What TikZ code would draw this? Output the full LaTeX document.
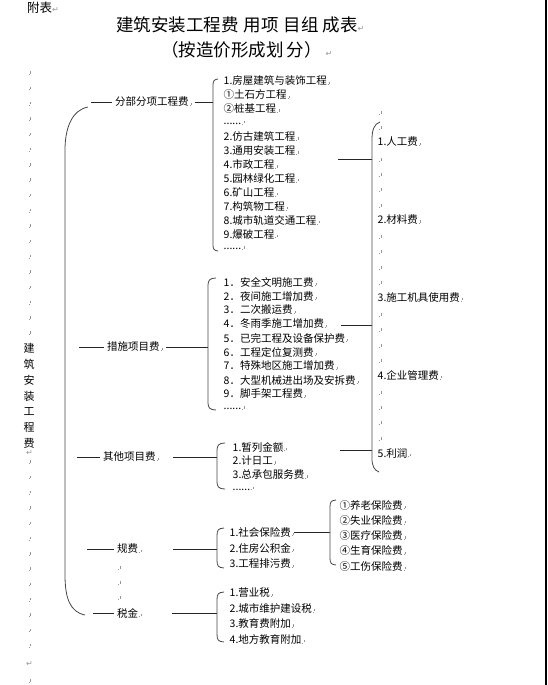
\documentclass[tikz,border=0pt]{standalone}
\usepackage{fontspec}
\newfontfamily\cjk{Noto Sans CJK SC}
\newfontfamily\symfont{DejaVu Sans}
\definecolor{markgray}{RGB}{150,150,150}
\definecolor{linegray}{RGB}{70,70,70}
% little paragraph marks and return arrows of the scanned page
\newcommand{\pmk}{{\color{markgray}\kern1pt\rule{0.7pt}{0.7pt}\kern0.6pt\rule[1pt]{0.5pt}{2.4pt}}}
\newcommand{\retmk}{{\symfont\color{markgray}\fontsize{8}{8}\selectfont ↵}}
\newcommand{\sixdots}{......}
% bracket: x, top, bottom, hook
\newcommand{\brkt}[4]{\draw[brk] (#1+#4,#2) .. controls (#1+1,#2+0.5) and (#1,#2+2) .. (#1,#2+#4+1) -- (#1,#3-#4-1) .. controls (#1,#3-2) and (#1+1,#3-0.5) .. (#1+#4,#3);}
\tikzset{
  lvlone/.style={anchor=west,inner xsep=3pt,inner ysep=1pt,align=left,font=\cjk\fontsize{10.5}{12}\selectfont},
  item/.style={anchor=west,inner sep=0.5pt,font=\cjk\fontsize{10.5}{12}\selectfont},
  titlef/.style={anchor=west,inner sep=0pt,font=\cjk\fontsize{17.5}{18}\selectfont},
  pmark/.style={anchor=west,inner sep=0pt},
  brk/.style={draw=linegray,line width=0.8pt},
  link/.style={draw=black!85,line width=0.8pt}
}
\begin{document}
\begin{tikzpicture}[x=1pt,y=-1pt]
  \useasboundingbox (0,0) rectangle (547,685);
  \fill[black] (545,0) rectangle (547,685);

  % headings
  \node[anchor=west,inner sep=0pt,font=\cjk\fontsize{12.5}{13}\selectfont] (fubiao) at (27,7.5) {附表\retmk};
  \node[titlef] (title) at (116,25) {建筑安装工程费\hspace{5pt}用项\hspace{5pt}目组\hspace{4pt}成表\retmk};
  \node[titlef] (subtitle) at (161,50) {（按造价形成划\hspace{3pt}分）\hspace{4pt}\retmk};

  % margin
  \node[align=center,inner sep=0pt,font=\cjk\fontsize{11}{15.8}\selectfont] (vert) at (29,396) {建\\筑\\安\\装\\工\\程\\费};
  \foreach \y [count=\k] in {73,88.3,...,335} \node[pmark] (ma\k) at (28,\y) {\pmk};
  \node[pmark] (mret1) at (26,453) {\retmk};
  \foreach \y [count=\k] in {462,477.3,...,650} \node[pmark] (mb\k) at (28,\y) {\pmk};
  \node[pmark] (mret2) at (26,664) {\retmk};
  \node[pmark] (mend) at (28,681) {\pmk};

  % first level
  \node[lvlone] (fbfx) at (112,102) {分部分项工程费\pmk};
  \node[lvlone] (csxm) at (104,347) {措施项目费\pmk};
  \node[lvlone,text width=67pt] (qtxm) at (100,457) {其他项目费\pmk};
  \node[lvlone,text width=53pt] (guifei) at (114,549) {规费\pmk};
  \node[lvlone,text width=52pt] (shuijin) at (114,613) {税金\pmk};
  \foreach \y [count=\k] in {568,583,598} \node[pmark] (mg\k) at (117,\y) {\pmk};

  \draw[brk] (88,107) .. controls (72,110) and (65,128) .. (65,150) -- (65,575) .. controls (65,598) and (70,612) .. (85,615);
  \coordinate (s1) at (91,102);
  \coordinate (s2) at (79,347);
  \coordinate (s3) at (77,457);
  \coordinate (s4) at (87,549);
  \coordinate (s5) at (93,613);
  \draw[link] (s1) -- (fbfx);
  \draw[link] (s2) -- (csxm);
  \draw[link] (s3) -- (qtxm);
  \draw[link] (s4) -- (guifei);
  \draw[link] (s5) -- (shuijin);

  % second level
  \coordinate (j1) at (213,102);
  \coordinate (j2) at (208,347);
  \coordinate (j3) at (217,457);
  \coordinate (j4) at (217,549);
  \coordinate (j5) at (217,613);
  \draw[link] (fbfx.east) -- (j1);
  \draw[link] (csxm.east) -- (j2);
  \draw[link] (qtxm.east) -- (j3);
  \draw[link] (guifei.east) -- (j4);
  \draw[link] (shuijin.east) -- (j5);
  \brkt{213}{79}{251}{5}
  \brkt{208}{278}{410}{8}
  \brkt{217}{443}{489}{8}
  \brkt{217}{528}{568}{7}
  \brkt{217}{592}{642}{7}

  \foreach \t [count=\i] in {1.房屋建筑与装饰工程,①土石方工程,②桩基工程,\sixdots,2.仿古建筑工程,3.通用安装工程,4.市政工程,5.园林绿化工程,6.矿山工程,7.构筑物工程,8.城市轨道交通工程,9.爆破工程,\sixdots}
    \node[item] (a\i) at (223,{81+13.92*(\i-1)}) {\t\pmk};
  \foreach \t [count=\i] in {1．安全文明施工费,2．夜间施工增加费,3．二次搬运费,4．冬雨季施工增加费,5．已完工程及设备保护费,6．工程定位复测费,7．特殊地区施工增加费,8．大型机械进出场及安拆费,9．脚手架工程费,\sixdots}
    \node[item] (b\i) at (223,{282+14*(\i-1)}) {\t\pmk};
  \foreach \t [count=\i] in {1.暂列金额,2.计日工,3.总承包服务费,\sixdots}
    \node[item] (c\i) at (232,{447+13.8*(\i-1)}) {\t\pmk};
  \foreach \t [count=\i] in {1.社会保险费,2.住房公积金,3.工程排污费}
    \node[item] (d\i) at (229,{532+16*(\i-1)}) {\t\pmk};
  \foreach \t [count=\i] in {1.营业税,2.城市维护建设税,3.教育费附加,4.地方教育附加}
    \node[item] (e\i) at (229,{593+15.4*(\i-1)}) {\t\pmk};

  % insurance
  \coordinate (j6) at (330,532);
  \draw[link] (d1.east) -- (j6);
  \brkt{330}{500}{565}{6}
  \foreach \t [count=\i] in {①养老保险费,②失业保险费,③医疗保险费,④生育保险费,⑤工伤保险费}
    \node[item] (f\i) at (339,{505+15.3*(\i-1)}) {\t\pmk};

  % cost elements
  \coordinate (r1) at (338,159);
  \coordinate (r2) at (341,325);
  \coordinate (r3) at (340,450);
  \coordinate (q1) at (372,159);
  \coordinate (q2) at (372,325);
  \coordinate (q3) at (372,450);
  \draw[link] (r1) -- (q1);
  \draw[link] (r2) -- (q2);
  \draw[link] (r3) -- (q3);
  \draw[brk] (380,122) .. controls (374,124) and (372,130) .. (372,140) -- (372,458) .. controls (372,466) and (374,470) .. (379,472);
  \foreach \t [count=\i] in {1.人工费,2.材料费,3.施工机具使用费,4.企业管理费,5.利润}
    \node[item] (g\i) at (377,{142+77.75*(\i-1)}) {\t\pmk};
  \foreach \y [count=\k] in {113,128,160,175,190,206,237,252,268,283,315,330,346,361,393,408,423,439}
    \node[pmark] (mr\k) at (378,\y) {\pmk};
\end{tikzpicture}
\end{document}
